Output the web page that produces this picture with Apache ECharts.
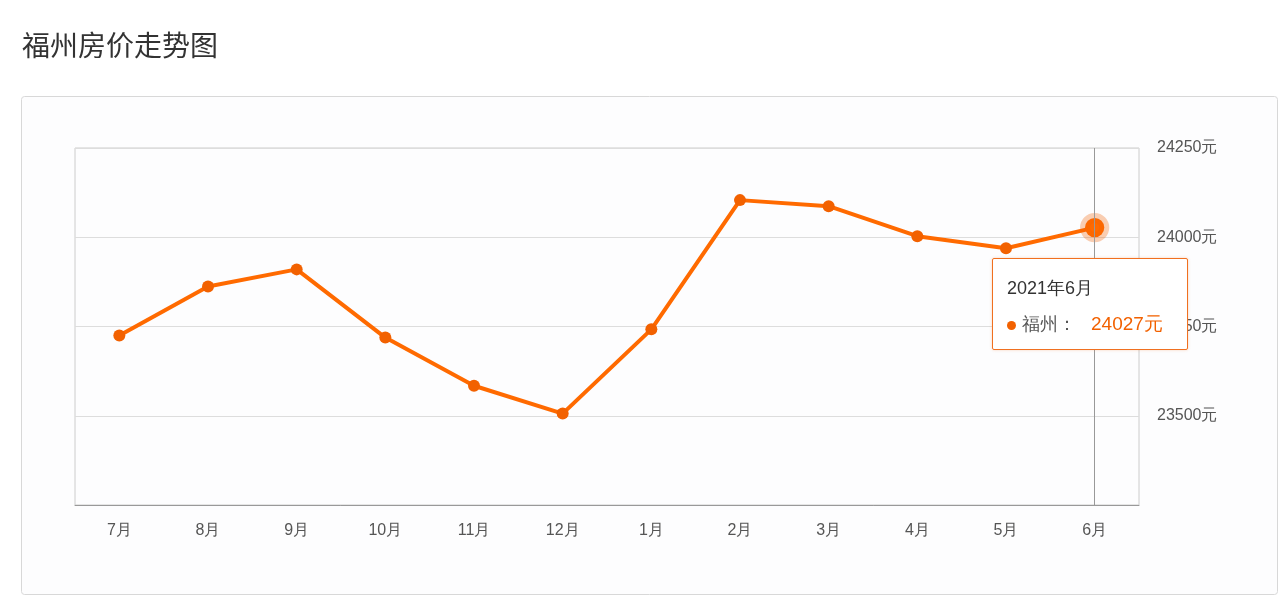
<!DOCTYPE html>
<html><head><meta charset="utf-8">
<script src="https://cdn.jsdelivr.net/npm/echarts@6/dist/echarts.min.js"></script>
<style>html,body{margin:0;background:#fff}#c{width:1280px;height:616px}</style>
</head><body><div id="c"></div>
<script>
const categories=['7月','8月','9月','10月','11月','12月','1月','2月','3月','4月','5月','6月'];
const tipLabels=['2020年7月','2020年8月','2020年9月','2020年10月','2020年11月','2020年12月','2021年1月','2021年2月','2021年3月','2021年4月','2021年5月','2021年6月'];
const prices=[23725,23862,23910,23719,23584,23506,23742,24104,24087,24003,23969,24027];
const seriesName='福州';
const chart=echarts.init(document.getElementById('c'));
chart.setOption({
  animation:false,
  title:{text:'福州房价走势图',left:17,top:26,textStyle:{fontSize:28,fontWeight:'normal',color:'#333',fontFamily:'Noto Sans CJK SC'}},
  graphic:[{type:'rect',shape:{x:21.5,y:96.5,width:1256,height:498,r:3},style:{fill:'#fdfdfe',stroke:'#d8d8d8',lineWidth:1},z:-10}],
  grid:{left:75,right:141,top:148,bottom:111,show:true,borderColor:'#ccc',borderWidth:1,backgroundColor:'transparent'},
  tooltip:{trigger:'axis',backgroundColor:'#fff',borderColor:'#f07020',borderWidth:1,padding:[14,14],
    position:function(p){return [p[0]-103,p[1]+30];},
    axisPointer:{type:'line',lineStyle:{color:'#999',width:1,type:'solid'}},
    formatter:function(ps){const p=ps[0];return '<div style="font-size:18px;color:#333;line-height:30px">'+tipLabels[p.dataIndex]+'</div><div style="font-size:18px;color:#555;margin-top:10px"><span style="display:inline-block;width:9px;height:9px;border-radius:5px;background:#f26100;margin-right:6px"></span>'+p.seriesName+'：&nbsp;&nbsp;&nbsp;<span style="color:#f26100;font-size:19px">'+p.value+'元</span></div>';},
    extraCssText:'border-radius:2px;box-shadow:0 0 3px rgba(240,112,32,0.3);width:166px'},
  xAxis:{type:'category',data:categories,boundaryGap:true,
    axisLine:{lineStyle:{color:'#999'}},axisTick:{show:false},
    axisLabel:{color:'#555',fontSize:16,margin:18}},
  yAxis:{type:'value',position:'right',min:23250,max:24250,interval:250,
    axisLine:{show:false},axisTick:{show:false},
    axisLabel:{color:'#555',fontSize:16,margin:18,formatter:v=>v===23250?'':v+'元'},
    splitLine:{lineStyle:{color:'#ddd'}}},
  series:[{name:seriesName,type:'line',data:prices,symbol:'circle',symbolSize:12,
    itemStyle:{color:'#f26100'},lineStyle:{width:4,color:'#f26100'},
    emphasis:{scale:1.6,itemStyle:{borderColor:'rgba(242,97,0,0.3)',borderWidth:10}}}]
});
chart.dispatchAction({type:'showTip',seriesIndex:0,dataIndex:11});
chart.dispatchAction({type:'highlight',seriesIndex:0,dataIndex:11});
</script></body></html>
